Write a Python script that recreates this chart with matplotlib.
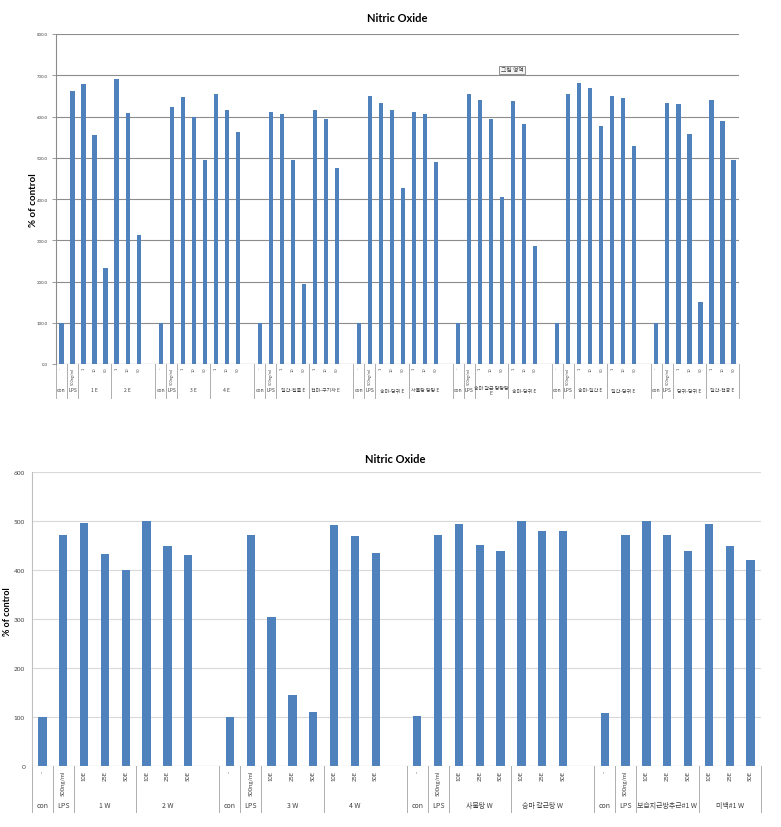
import matplotlib
matplotlib.use("Agg")
import matplotlib.pyplot as plt

W, H = 781, 828
KR = ['Noto Sans CJK KR', 'DejaVu Sans']
LAT = ['Lato', 'DejaVu Sans']
BAR = '#4F81BD'

# ---------------- data: top chart (E extracts) ----------------
top_outer = [
    ["con", "LPS", "1 E", "2 E"],
    ["con", "LPS", "3 E", "4 E"],
    ["con", "LPS", "일간-힘줄 E", "천마-구기자 E"],
    ["con", "LPS", "승마-당귀 E", "사물탕 탕탕 E"],
    ["con", "LPS", "승마 갈근 탕탕탕\nE", "승마-당귀 E"],
    ["con", "LPS", "승마-일간 E", "일간-당귀 E"],
    ["con", "LPS", "당귀-당귀 E", "일간-천궁 E"],
]
top_inner = ["-", "500ng/ml", "1", "10", "50", "1", "10", "50"]
top_values = [
    [100, 663, 679, 554, 232, 692, 608, 312],
    [100, 624, 648, 600, 494, 655, 615, 563],
    [100, 611, 605, 494, 194, 616, 595, 474],
    [100, 650, 632, 616, 426, 611, 606, 490],
    [100, 654, 641, 593, 404, 638, 581, 285],
    [100, 654, 681, 670, 578, 650, 644, 528],
    [100, 632, 631, 558, 150, 641, 589, 494],
]
top_yticks = [0, 100, 200, 300, 400, 500, 600, 700, 800]

# ---------------- data: bottom chart (W extracts) ----------------
bot_outer = [
    ["con", "LPS", "1 W", "2 W"],
    ["con", "LPS", "3 W", "4 W"],
    ["con", "LPS", "사물탕 W", "승마 갈근탕 W"],
    ["con", "LPS", "보습지근방추근#1 W", "미백#1 W"],
]
bot_inner = ["-", "500ng/ml", "10E", "25E", "50E", "10E", "25E", "50E"]
bot_values = [
    [100, 472, 495, 433, 401, 500, 449, 431],
    [100, 472, 305, 144, 110, 491, 470, 435],
    [102, 472, 493, 451, 438, 501, 479, 479],
    [108, 472, 500, 472, 438, 493, 450, 420],
]
bot_yticks = [0, 100, 200, 300, 400, 500, 600]

fig = plt.figure(figsize=(W / 100, H / 100), dpi=100)
fig.patch.set_facecolor('white')


def px_axes(l, t, r, b):
    return fig.add_axes([l / W, 1 - b / H, (r - l) / W, (b - t) / H])


def draw(ax, outer, inner, values, yticks, ymax, grid_col, bar_w,
         tick_fs, inner_fs, outer_fs, table_px, inner_gap_px, outer_y_px,
         ytick_fmt, show_ticks, axis_col):
    ax_h_px = ax.get_position().height * H
    slot = 0
    xs, hs = [], []
    bounds = []
    nb = len(values)
    label_items = []
    for bi, blk in enumerate(values):
        start = slot
        for i, v in enumerate(blk):
            xs.append(start + i)
            hs.append(v)
            label_items.append((start + i, inner[i]))
        end = start + len(blk) - 1 + (1 if bi < nb - 1 else 0)
        bounds.append((start, end))
        slot = start + len(blk) + 1
    nslots = slot - 1
    ax.bar(xs, hs, width=bar_w, color=BAR, zorder=3)
    ax.set_xlim(-0.5, nslots - 0.5)
    ax.set_ylim(0, ymax)
    ax.set_yticks(yticks)
    ax.set_yticklabels([ytick_fmt(t) for t in yticks], fontsize=tick_fs,
                       family=LAT, color='#404040')
    ax.yaxis.grid(True, color=grid_col, lw=0.8, zorder=0)
    ax.set_axisbelow(True)
    for s in ['top', 'right', 'bottom']:
        ax.spines[s].set_visible(False)
    ax.spines['left'].set_color(axis_col)
    ax.spines['left'].set_linewidth(0.8)
    ax.set_xticks([])
    if show_ticks:
        ax.tick_params(axis='y', length=3, width=0.6, color=axis_col, pad=3)
    else:
        ax.tick_params(axis='y', length=0, pad=5)
    ax.axhline(0, color=axis_col, lw=0.8, zorder=4)

    tr = ax.get_xaxis_transform()
    f = lambda p: -p / ax_h_px
    # inner labels
    for x, lab in label_items:
        ax.text(x, f(inner_gap_px), lab, transform=tr, rotation=90,
                ha='center', va='top', fontsize=inner_fs, family=LAT,
                color='#404040', clip_on=False)
    # outer labels + separators
    for bi, (start, end) in enumerate(bounds):
        cells = [(start, start), (start + 1, start + 1),
                 (start + 2, start + 4), (start + 5, end)]
        for ci, (a, b) in enumerate(cells):
            label_b = b if ci < 3 else start + 7
            cx = (a + label_b) / 2
            ax.text(cx, f(outer_y_px), outer[bi][ci], transform=tr,
                    ha='center', va='center', fontsize=outer_fs, family=KR,
                    color='#404040', clip_on=False, linespacing=0.9)
            for xb in (a - 0.5, b + 0.5):
                ax.plot([xb, xb], [0, f(table_px)], transform=tr,
                        color='#B0B0B0', lw=0.7, clip_on=False)


# ---- top chart ----
ax1 = px_axes(56, 35, 739, 365)
draw(ax1, top_outer, top_inner, top_values, top_yticks, 800, '#8C8C8C', 0.38,
     tick_fs=3.2, inner_fs=2.8, outer_fs=3.6, table_px=34, inner_gap_px=3,
     outer_y_px=26, ytick_fmt=lambda t: f"{t:.1f}", show_ticks=True,
     axis_col='#8C8C8C')
fig.text(397 / W, 1 - 18 / H, "Nitric Oxide", ha='center', va='center',
         fontsize=8, fontweight='bold', family=LAT)
fig.text(33 / W, 1 - 200 / H, "% of control", ha='center', va='center',
         rotation=90, fontsize=7, fontweight='bold', family=LAT)
fig.text(512 / W, 1 - 71 / H, "그림 영역", ha='center', va='center',
         fontsize=4.2, family=KR, color='#404040',
         bbox=dict(boxstyle='square,pad=0.25', fc='#F4F4F4', ec='#808080',
                   lw=0.6))

# ---- bottom chart ----
ax2 = px_axes(32, 473, 761, 767)
draw(ax2, bot_outer, bot_inner, bot_values, bot_yticks, 600, '#D9D9D9', 0.4,
     tick_fs=4.6, inner_fs=4.2, outer_fs=5.0, table_px=46, inner_gap_px=4,
     outer_y_px=39, ytick_fmt=lambda t: f"{t:d}", show_ticks=False,
     axis_col='#BFBFBF')
fig.text(395 / W, 1 - 460 / H, "Nitric Oxide", ha='center', va='center',
         fontsize=8, fontweight='bold', family=LAT)
fig.text(8 / W, 1 - 612 / H, "% of control", ha='center', va='center',
         rotation=90, fontsize=6.5, fontweight='bold', family=LAT)

fig.savefig("out.png", dpi=100, facecolor='white')
